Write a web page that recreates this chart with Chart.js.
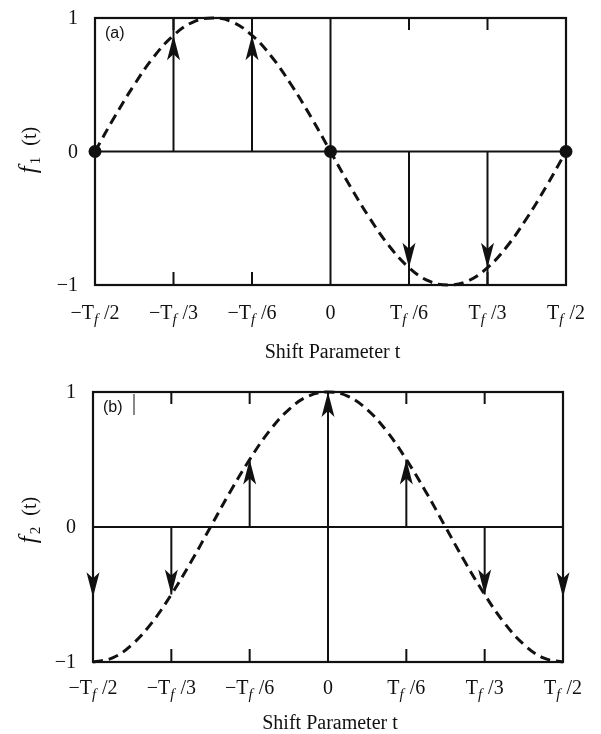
<!DOCTYPE html>
<html>
<head>
<meta charset="utf-8">
<script src="https://cdn.jsdelivr.net/npm/chart.js@4.4.1/dist/chart.umd.min.js"></script>
<style>
  body { margin: 0; background: #fff; }
  canvas { display: block; }
</style>
</head>
<body>
<canvas id="panelA" width="601" height="367"></canvas>
<canvas id="panelB" width="601" height="367"></canvas>
<script>
// sample positions of the dashed curves, in units of Tf
const tValues = [-12, -11, -10, -9, -8, -7, -6, -5, -4, -3, -2, -1, 0,
                 1, 2, 3, 4, 5, 6, 7, 8, 9, 10, 11, 12].map(k => k / 24);

// curve values
const f1Values = [0, 0.26, 0.5, 0.71, 0.87, 0.97, 1, 0.97, 0.87, 0.71, 0.5, 0.26, 0,
                  -0.26, -0.5, -0.71, -0.87, -0.97, -1, -0.97, -0.87, -0.71, -0.5, -0.26, 0];
const f2Values = [-1, -0.97, -0.87, -0.71, -0.5, -0.26, 0, 0.26, 0.5, 0.71, 0.87, 0.97, 1,
                  0.97, 0.87, 0.71, 0.5, 0.26, 0, -0.26, -0.5, -0.71, -0.87, -0.97, -1];

// arrows (sample points)
const arrowsAX = [-1 / 3, -1 / 6, 1 / 6, 1 / 3];
const arrowsAY = [0.87, 0.87, -0.87, -0.87];
const arrowsBX = [-1 / 2, -1 / 3, -1 / 6, 0, 1 / 6, 1 / 3, 1 / 2];
const arrowsBY = [-0.52, -0.5, 0.5, 1, 0.5, -0.5, -0.52];

// dots on panel (a)
const dotsAX = [-0.5, 0, 0.5];
const dotsAY = [0, 0, 0];

// axes
const xTickValues = [-1 / 2, -1 / 3, -1 / 6, 0, 1 / 6, 1 / 3, 1 / 2];
const xTickLabels = ['−T_f /2', '−T_f /3', '−T_f /6', '0', 'T_f /6', 'T_f /3', 'T_f /2'];
const yTickValues = [1, 0, -1];
const yTickLabels = ['1', '0', '−1'];

const SERIF = '"Liberation Serif", "DejaVu Serif", serif';

function drawRich(ctx, text, x, y) {
    // "_f" marks an italic subscript f
    const parts = [];
    text.split(/(_f)/).forEach(p => {
        if (!p) return;
        if (p === '_f') parts.push({ t: 'f', sub: true });
        else parts.push({ t: p, sub: false });
    });
    const fontN = '20px ' + SERIF;
    const fontS = 'italic 15px ' + SERIF;
    let w = 0;
    parts.forEach(p => {
        ctx.font = p.sub ? fontS : fontN;
        p.w = ctx.measureText(p.t).width + (p.sub ? 1 : 0);
        w += p.w;
    });
    let cx = x - w / 2;
    ctx.textAlign = 'left';
    ctx.textBaseline = 'alphabetic';
    parts.forEach(p => {
        ctx.font = p.sub ? fontS : fontN;
        ctx.fillText(p.t, cx, y + (p.sub ? 5 : 0));
        cx += p.w;
    });
}

function arrowHead(ctx, x, y, dir) {
    // dir = -1 points up, +1 points down; tip at (x, y)
    const len = 25, half = 6.5, notch = 19;
    ctx.beginPath();
    ctx.moveTo(x, y);
    ctx.lineTo(x - half, y - dir * len);
    ctx.lineTo(x, y - dir * notch);
    ctx.lineTo(x + half, y - dir * len);
    ctx.closePath();
    ctx.fill();
}

const framePlugin = {
    id: 'frame',
    beforeDatasetsDraw(chart, args, opts) {
        const ctx = chart.ctx;
        const xs = chart.scales.x, ys = chart.scales.y;
        const a = chart.chartArea;
        const y0 = ys.getPixelForValue(0);
        ctx.save();
        ctx.strokeStyle = '#111';
        ctx.fillStyle = '#111';

        // frame + zero line
        ctx.lineWidth = 2.2;
        ctx.strokeRect(a.left, a.top, a.right - a.left, a.bottom - a.top);
        ctx.beginPath();
        ctx.moveTo(a.left, y0);
        ctx.lineTo(a.right, y0);
        ctx.stroke();

        // inner ticks and centre line
        ctx.lineWidth = 2;
        xTickValues.forEach(v => {
            const px = xs.getPixelForValue(v);
            ctx.beginPath();
            if (v === 0) {
                ctx.moveTo(px, a.top);
                ctx.lineTo(px, a.bottom);
            } else {
                ctx.moveTo(px, a.top);
                ctx.lineTo(px, a.top + 12);
                ctx.moveTo(px, a.bottom);
                ctx.lineTo(px, a.bottom - 13);
            }
            ctx.stroke();
        });

        // arrows
        opts.ax.forEach((v, i) => {
            const px = xs.getPixelForValue(v);
            const val = opts.ay[i];
            const tip = ys.getPixelForValue(val);
            const end = opts.toEdge ? (val > 0 ? a.top : a.bottom) : tip;
            ctx.beginPath();
            ctx.moveTo(px, y0);
            ctx.lineTo(px, end);
            ctx.stroke();
            arrowHead(ctx, px, tip, val > 0 ? -1 : 1);
        });

        if (opts.bar) {
            ctx.lineWidth = 1;
            ctx.beginPath();
            ctx.moveTo(a.left + 41, a.top + 2);
            ctx.lineTo(a.left + 41, a.top + 23);
            ctx.stroke();
        }
        ctx.restore();
    },
    afterDraw(chart, args, opts) {
        const ctx = chart.ctx;
        const xs = chart.scales.x, ys = chart.scales.y;
        const a = chart.chartArea;
        ctx.save();
        ctx.fillStyle = '#111';

        // y tick labels
        ctx.font = '20px ' + SERIF;
        ctx.textAlign = 'right';
        ctx.textBaseline = 'middle';
        yTickValues.forEach((v, i) => {
            ctx.fillText(yTickLabels[i], a.left - 17, ys.getPixelForValue(v) + 1);
        });

        // x tick labels
        xTickValues.forEach((v, i) => {
            drawRich(ctx, xTickLabels[i], xs.getPixelForValue(v), a.bottom + opts.tickGap);
        });

        // x title
        ctx.font = '20px ' + SERIF;
        ctx.textAlign = 'center';
        ctx.textBaseline = 'alphabetic';
        ctx.fillText('Shift Parameter t', (a.left + a.right) / 2 + 2, a.bottom + opts.titleGap);

        // y title, rotated
        ctx.translate(29, opts.titleY);
        ctx.rotate(-Math.PI / 2);
        ctx.textBaseline = 'alphabetic';
        ctx.textAlign = 'left';
        ctx.font = 'italic 25px ' + SERIF;
        const wf = ctx.measureText('f').width;
        ctx.font = '15px ' + SERIF;
        const ws = ctx.measureText(opts.sub).width;
        ctx.font = '20px ' + SERIF;
        const wt = ctx.measureText('  (t)').width;
        let cx = -(wf + ws + wt + 3) / 2;
        ctx.font = 'italic 25px ' + SERIF;
        ctx.fillText('f', cx, 7);
        cx += wf + 2;
        ctx.font = '15px ' + SERIF;
        ctx.fillText(opts.sub, cx, 11);
        cx += ws + 1;
        ctx.font = '20px ' + SERIF;
        ctx.fillText('  (t)', cx, 7);
        ctx.restore();

        // panel letter
        ctx.save();
        ctx.fillStyle = '#111';
        ctx.font = '16px "Liberation Sans", Arial, sans-serif';
        ctx.textAlign = 'left';
        ctx.textBaseline = 'middle';
        ctx.fillText(opts.letter, a.left + 10, a.top + 16);
        ctx.restore();
    }
};

function makePanel(id, curve, ax, ay, extra) {
    const datasets = [{
        data: tValues.map((t, i) => ({ x: t, y: curve[i] })),
        borderColor: '#111',
        borderWidth: 3,
        borderDash: [10, 6],
        tension: 0.4,
        pointRadius: 0,
        clip: false
    }];
    if (extra.dots) {
        datasets.push({
            data: dotsAX.map((x, i) => ({ x: x, y: dotsAY[i] })),
            showLine: false,
            pointRadius: 6.5,
            pointBackgroundColor: '#111',
            pointBorderWidth: 0,
            clip: false
        });
    }
    return new Chart(document.getElementById(id), {
        type: 'line',
        data: { datasets: datasets },
        options: {
            responsive: false,
            animation: false,
            events: [],
            layout: { padding: extra.padding },
            scales: {
                x: { type: 'linear', min: -0.5, max: 0.5, display: false },
                y: { type: 'linear', min: -1, max: 1, display: false }
            },
            plugins: {
                legend: { display: false },
                tooltip: { enabled: false },
                frame: {
                    ax: ax, ay: ay,
                    toEdge: extra.toEdge,
                    bar: extra.bar,
                    letter: extra.letter,
                    sub: extra.sub,
                    titleY: extra.titleY,
                    tickGap: extra.tickGap,
                    titleGap: extra.titleGap
                }
            }
        },
        plugins: [framePlugin]
    });
}

makePanel('panelA', f1Values, arrowsAX, arrowsAY, {
    padding: { left: 95, right: 35, top: 18, bottom: 82 },
    dots: true, toEdge: true, bar: false, letter: '(a)', sub: '1', titleY: 150,
    tickGap: 34, titleGap: 73
});
makePanel('panelB', f2Values, arrowsBX, arrowsBY, {
    padding: { left: 93, right: 38, top: 25, bottom: 72 },
    dots: false, toEdge: false, bar: true, letter: '(b)', sub: '2', titleY: 153,
    tickGap: 32, titleGap: 67
});
</script>
</body>
</html>
